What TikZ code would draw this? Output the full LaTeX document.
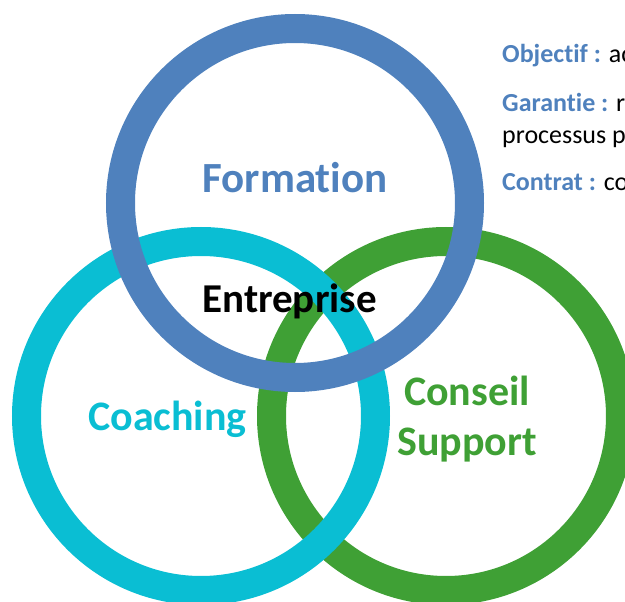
\documentclass[tikz,border=0pt]{standalone}
\usepackage{fontspec}
\setmainfont{Carlito}[Ligatures=NoCommon]
\definecolor{formblue}{HTML}{4F81BD}
\definecolor{coachcyan}{HTML}{0ABED3}
\definecolor{consgreen}{HTML}{3FA035}
\begin{document}
\begin{tikzpicture}
  [x=1pt,y=-1pt,ring/.style={circle,draw,line width=29pt,minimum size=349pt,inner sep=0pt},
   every node/.style={font=\bfseries,inner sep=0pt,anchor=base}]
  \useasboundingbox (0,0) rectangle (625,602);

  % rings: green below, blue on top
  \foreach \nm/\x/\y/\col in {conseil/446/416/consgreen,coaching/201/416/coachcyan,formation/295/203/formblue}
    \node[ring,\col] (\nm) at (\x,\y) {};

  \node[formblue,font=\bfseries\fontsize{43}{43}\selectfont] (tform) at (295,193) {Formation};
  \node[font=\bfseries\fontsize{41}{41}\selectfont] (tentr) at (289.5,312) {Entreprise};
  \node[coachcyan,font=\bfseries\fontsize{42}{42}\selectfont] (tcoach) at (167.5,430) {Coaching};
  \node[consgreen,font=\bfseries\fontsize{42}{42}\selectfont] (tcons) at (467,405) {Conseil};
  \node[consgreen,font=\bfseries\fontsize{42}{42}\selectfont] (tsupp) at (467,455) {Support};

  \tikzset{every node/.append style={anchor=base west,font=\fontsize{26}{32}\selectfont}}
  \node (obj) at (502,63) {\textcolor{formblue}{\bfseries Objectif :} ac};
  \node (gar) at (502,112) {\textcolor{formblue}{\bfseries Garantie :} r};
  \node (proc) at (502,144) {processus p};
  \node (contr) at (502,190) {\textcolor{formblue}{\bfseries Contrat :} co};

\end{tikzpicture}
\end{document}
